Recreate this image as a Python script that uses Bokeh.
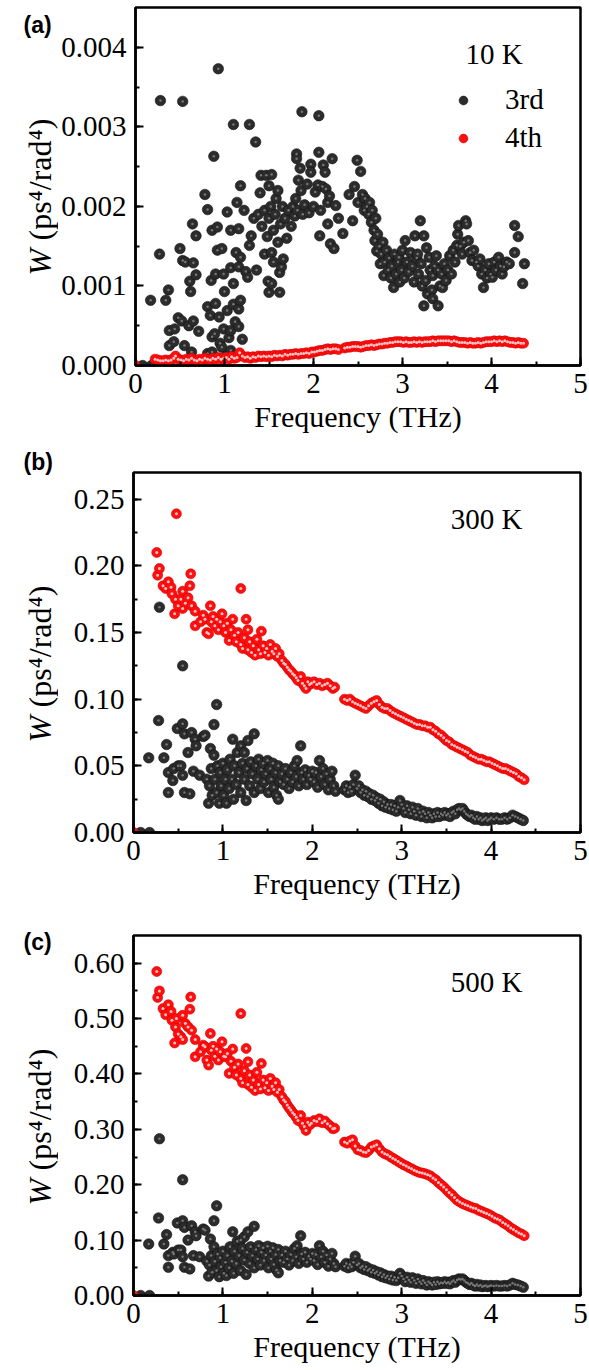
import numpy as np
from math import pi
from bokeh.plotting import figure
from bokeh.layouts import column, row
from bokeh.core.properties import value
from bokeh.models import (Range1d, PrintfTickFormatter, SingleIntervalTicker,
                          Label, Legend, LegendItem, ColumnDataSource)
from bokeh.embed import file_html
from bokeh.resources import INLINE

# ---------------- data ----------------
# Panel (a) 10 K : values in units of 1e-3 ps^4/rad^4
f3a = [0.08, 0.18, 0.17, 0.28, 0.27, 0.34, 0.37, 0.38, 0.38, 0.43, 0.44, 0.48, 0.50, 0.52, 0.53, 0.53,
       0.55, 0.56, 0.60, 0.61, 0.62, 0.63, 0.64, 0.65, 0.65, 0.68, 0.68, 0.71, 0.78, 0.81, 0.81, 0.81,
       0.84, 0.85, 0.86, 0.86, 0.86, 0.88, 0.89, 0.90, 0.90, 0.92, 0.92, 0.93, 0.94, 0.95, 0.97, 0.97,
       0.99, 0.99, 1.00, 1.02, 1.03, 1.03, 1.05, 1.07, 1.07, 1.07, 1.07, 1.10, 1.10, 1.10, 1.12, 1.13,
       1.14, 1.16, 1.16, 1.16, 1.16, 1.18, 1.18, 1.18, 1.20, 1.22, 1.24, 1.26, 1.28, 1.28, 1.30, 1.33,
       1.35, 1.36, 1.38, 1.40, 1.41, 1.42, 1.45, 1.45, 1.47, 1.48, 1.49, 1.50, 1.50, 1.50, 1.52, 1.53,
       1.53, 1.53, 1.55, 1.55, 1.57, 1.58, 1.60, 1.60, 1.62, 1.62, 1.63, 1.64, 1.65, 1.66, 1.68, 1.70,
       1.72, 1.75, 1.77, 1.79, 1.80, 1.81, 1.81, 1.82, 1.83, 1.85, 1.86, 1.87, 1.88, 1.90, 1.93, 1.95,
       1.97, 1.97, 2.00, 2.02, 2.05, 2.06, 2.06, 2.07, 2.08, 2.10, 2.11, 2.13, 2.14, 2.16, 2.16, 2.18,
       2.19, 2.21, 2.23, 2.25, 2.28, 2.33, 2.40, 2.44, 2.46, 2.49, 2.50, 2.53, 2.55, 2.57, 2.58, 2.60,
       2.62, 2.63, 2.65, 2.66, 2.68, 2.69, 2.70, 2.71, 2.72, 2.74, 2.75, 2.76, 2.78, 2.79, 2.80, 2.82,
       2.84, 2.85, 2.87, 2.88, 2.90, 2.91, 2.93, 2.95, 2.96, 2.97, 2.99, 3.00, 3.02, 3.03, 3.05, 3.07,
       3.09, 3.11, 3.13, 3.14, 3.16, 3.17, 3.18, 3.20, 3.21, 3.22, 3.24, 3.24, 3.26, 3.27, 3.28, 3.30,
       3.31, 3.33, 3.34, 3.34, 3.36, 3.38, 3.40, 3.40, 3.42, 3.44, 3.45, 3.47, 3.49, 3.51, 3.53, 3.55,
       3.57, 3.59, 3.61, 3.62, 3.63, 3.65, 3.67, 3.69, 3.71, 3.72, 3.74, 3.76, 3.78, 3.80, 3.83, 3.85,
       3.87, 3.89, 3.91, 3.93, 3.95, 3.97, 3.99, 4.01, 4.03, 4.05, 4.08, 4.10, 4.12, 4.14, 4.17, 4.20,
       4.26, 4.26, 4.30, 4.35, 4.37]
w3a_milli = [0.00, 0.00, 0.82, 3.33, 1.40, 0.82, 0.95, 0.44, 0.25, 0.30, 0.46, 0.60, 1.47, 0.56, 3.32, 1.32,
             0.25, 1.30, 0.50, 1.06, 0.93, 0.17, 1.78, 1.29, 0.56, 1.63, 1.14, 0.43, 2.15, 1.96, 0.74, 0.15,
             0.63, 1.07, 1.70, 0.36, 0.17, 2.63, 0.40, 0.78, 1.15, 1.74, 1.45, 3.73, 0.61, 0.28, 1.47, 0.23,
             1.15, 0.46, 0.93, 0.12, 1.93, 0.69, 0.35, 1.70, 1.23, 0.44, 0.19, 3.03, 1.03, 0.77, 0.55, 1.42,
             2.05, 1.72, 1.24, 0.71, 0.49, 2.26, 1.36, 0.82, 0.33, 1.95, 1.18, 1.11, 3.03, 1.51, 1.63, 1.85,
             2.81, 1.20, 1.90, 2.17, 2.39, 1.75, 1.40, 1.95, 2.39, 1.62, 1.06, 2.26, 1.85, 0.92, 2.00, 2.40,
             1.42, 1.03, 1.70, 1.30, 1.90, 2.10, 2.20, 1.55, 1.17, 0.92, 1.78, 1.24, 2.00, 1.34, 1.85, 1.60,
             1.95, 1.75, 2.00, 1.88, 2.10, 2.66, 2.60, 1.95, 2.33, 2.48, 2.20, 3.19, 1.90, 2.02, 2.28, 1.92,
             2.53, 2.43, 2.00, 2.18, 2.27, 3.14, 2.68, 1.63, 1.95, 2.25, 2.52, 2.43, 2.22, 1.78, 2.05, 2.13,
             1.53, 2.60, 1.47, 2.01, 1.85, 1.66, 2.15, 1.82, 2.25, 2.58, 2.05, 2.44, 2.15, 1.95, 2.10, 2.00,
             1.90, 2.05, 1.80, 1.95, 1.70, 1.57, 1.85, 1.44, 1.65, 1.50, 1.28, 1.40, 1.55, 1.13, 1.30, 1.45,
             1.20, 1.35, 1.10, 1.25, 0.98, 1.40, 1.15, 1.30, 1.36, 1.05, 1.20, 1.45, 1.10, 1.57, 1.30, 1.18,
             1.42, 1.25, 1.05, 1.63, 1.35, 1.40, 1.15, 1.82, 1.28, 1.00, 1.63, 0.75, 1.07, 1.48, 0.90, 1.36,
             1.20, 0.95, 1.13, 0.84, 1.25, 1.38, 1.20, 0.75, 1.00, 1.15, 0.98, 1.28, 1.07, 1.20, 1.38, 1.15,
             1.45, 1.30, 1.51, 1.65, 1.76, 1.50, 1.40, 1.55, 1.82, 1.78, 1.57, 1.42, 1.32, 1.45, 1.30, 1.25,
             1.34, 1.15, 0.98, 1.20, 1.10, 1.28, 1.15, 1.11, 1.30, 1.20, 1.36, 1.25, 1.15, 1.24, 1.30, 1.28,
             1.76, 1.42, 1.62, 1.03, 1.28]
f4a = [0.00, 0.22, 0.25, 0.28, 0.31, 0.34, 0.37, 0.40, 0.43, 0.45, 0.48, 0.51, 0.54, 0.57, 0.60, 0.63,
       0.66, 0.69, 0.72, 0.75, 0.78, 0.81, 0.84, 0.87, 0.90, 0.93, 0.96, 0.99, 1.02, 1.05, 1.08, 1.11,
       1.14, 1.17, 1.20, 1.23, 1.26, 1.29, 1.32, 1.35, 1.38, 1.41, 1.44, 1.47, 1.50, 1.53, 1.56, 1.59,
       1.62, 1.65, 1.68, 1.71, 1.74, 1.77, 1.80, 1.83, 1.86, 1.89, 1.92, 1.95, 1.98, 2.01, 2.04, 2.07,
       2.10, 2.13, 2.16, 2.19, 2.22, 2.25, 2.28, 2.35, 2.38, 2.41, 2.44, 2.47, 2.50, 2.53, 2.56, 2.59,
       2.62, 2.65, 2.68, 2.71, 2.74, 2.77, 2.80, 2.83, 2.86, 2.89, 2.92, 2.95, 2.98, 3.01, 3.04, 3.07,
       3.10, 3.13, 3.16, 3.19, 3.22, 3.25, 3.28, 3.31, 3.34, 3.37, 3.40, 3.43, 3.46, 3.49, 3.52, 3.55,
       3.58, 3.61, 3.64, 3.67, 3.70, 3.73, 3.76, 3.79, 3.82, 3.85, 3.88, 3.91, 3.94, 3.97, 4.00, 4.03,
       4.06, 4.09, 4.12, 4.15, 4.18, 4.21, 4.24, 4.27, 4.30, 4.33, 4.36]
w4a_milli = [0.00, 0.08, 0.07, 0.06, 0.06, 0.07, 0.06, 0.07, 0.09, 0.12, 0.08, 0.07, 0.06, 0.08, 0.07, 0.09,
             0.07, 0.06, 0.08, 0.07, 0.09, 0.08, 0.07, 0.09, 0.08, 0.10, 0.08, 0.09, 0.10, 0.08, 0.11, 0.09,
             0.10, 0.16, 0.12, 0.10, 0.11, 0.09, 0.11, 0.10, 0.12, 0.11, 0.12, 0.11, 0.12, 0.11, 0.13, 0.12,
             0.13, 0.12, 0.14, 0.13, 0.14, 0.14, 0.15, 0.14, 0.15, 0.15, 0.16, 0.15, 0.17, 0.17, 0.18, 0.19,
             0.19, 0.20, 0.21, 0.20, 0.21, 0.21, 0.20, 0.22, 0.23, 0.23, 0.24, 0.24, 0.24, 0.23, 0.24, 0.25,
             0.25, 0.26, 0.25, 0.26, 0.27, 0.27, 0.28, 0.28, 0.29, 0.29, 0.30, 0.30, 0.30, 0.29, 0.30, 0.29,
             0.29, 0.30, 0.29, 0.30, 0.29, 0.30, 0.30, 0.30, 0.31, 0.30, 0.31, 0.31, 0.31, 0.31, 0.31, 0.30,
             0.31, 0.30, 0.29, 0.29, 0.29, 0.28, 0.29, 0.28, 0.28, 0.29, 0.28, 0.29, 0.30, 0.30, 0.30, 0.31,
             0.30, 0.31, 0.30, 0.31, 0.30, 0.29, 0.29, 0.28, 0.29, 0.28, 0.28]

# Panels (b) 300 K and (c) 500 K share the mode frequencies
f3bc = [0.08, 0.18, 0.17, 0.28, 0.29, 0.34, 0.37, 0.39, 0.39, 0.44, 0.45, 0.49, 0.50, 0.53, 0.55, 0.55,
        0.55, 0.57, 0.57, 0.61, 0.63, 0.65, 0.67, 0.69, 0.70, 0.74, 0.78, 0.80, 0.82, 0.84, 0.85, 0.86,
        0.87, 0.88, 0.90, 0.90, 0.91, 0.93, 0.93, 0.94, 0.96, 0.97, 0.98, 1.00, 1.01, 1.03, 1.04, 1.05,
        1.07, 1.08, 1.10, 1.11, 1.12, 1.13, 1.15, 1.16, 1.18, 1.20, 1.20, 1.22, 1.24, 1.24, 1.26, 1.27,
        1.28, 1.30, 1.31, 1.33, 1.35, 1.35, 1.37, 1.39, 1.40, 1.42, 1.43, 1.45, 1.46, 1.48, 1.50, 1.51,
        1.53, 1.54, 1.56, 1.57, 1.59, 1.60, 1.62, 1.62, 1.64, 1.66, 1.68, 1.70, 1.72, 1.74, 1.76, 1.78,
        1.80, 1.82, 1.83, 1.85, 1.87, 1.88, 1.90, 1.92, 1.94, 1.96, 1.98, 2.00, 2.02, 2.04, 2.06, 2.08,
        2.10, 2.12, 2.14, 2.16, 2.18, 2.20, 2.22, 2.24, 2.26, 2.36, 2.38, 2.40, 2.42, 2.44, 2.46, 2.48,
        2.50, 2.52, 2.54, 2.56, 2.58, 2.60, 2.62, 2.64, 2.66, 2.68, 2.70, 2.72, 2.74, 2.76, 2.78, 2.80,
        2.82, 2.84, 2.86, 2.88, 2.90, 2.92, 2.94, 2.96, 2.98, 3.00, 3.02, 3.04, 3.06, 3.08, 3.10, 3.12,
        3.14, 3.16, 3.18, 3.20, 3.22, 3.24, 3.26, 3.28, 3.30, 3.32, 3.34, 3.36, 3.38, 3.40, 3.42, 3.44,
        3.46, 3.48, 3.50, 3.52, 3.54, 3.56, 3.58, 3.60, 3.62, 3.64, 3.66, 3.68, 3.70, 3.72, 3.74, 3.76,
        3.78, 3.80, 3.82, 3.84, 3.86, 3.88, 3.90, 3.92, 3.94, 3.96, 3.98, 4.00, 4.03, 4.06, 4.09, 4.12,
        4.15, 4.18, 4.21, 4.24, 4.27, 4.30, 4.33, 4.36]
w3b = [0.000, 0.000, 0.056, 0.084, 0.169, 0.056, 0.066, 0.045, 0.030, 0.039, 0.048, 0.078, 0.050, 0.050, 0.0815, 0.043,
       0.125, 0.074, 0.030, 0.060, 0.029, 0.075, 0.046, 0.070, 0.065, 0.043, 0.072, 0.073, 0.040, 0.022, 0.035, 0.063,
       0.048, 0.028, 0.081, 0.058, 0.040, 0.096, 0.030, 0.050, 0.022, 0.045, 0.035, 0.052, 0.028, 0.040, 0.022, 0.047,
       0.033, 0.055, 0.040, 0.070, 0.025, 0.050, 0.036, 0.060, 0.045, 0.065, 0.030, 0.052, 0.060, 0.040, 0.024, 0.048,
       0.069, 0.035, 0.053, 0.044, 0.074, 0.030, 0.050, 0.040, 0.055, 0.033, 0.047, 0.052, 0.038, 0.044, 0.054, 0.030,
       0.048, 0.040, 0.052, 0.034, 0.045, 0.028, 0.025, 0.050, 0.038, 0.044, 0.036, 0.048, 0.040, 0.033, 0.045, 0.038,
       0.050, 0.042, 0.054, 0.035, 0.065, 0.045, 0.040, 0.047, 0.036, 0.043, 0.040, 0.046, 0.038, 0.045, 0.034, 0.054,
       0.042, 0.048, 0.036, 0.044, 0.032, 0.040, 0.046, 0.035, 0.031, 0.032, 0.035, 0.030, 0.034, 0.031, 0.036, 0.043,
       0.033, 0.035, 0.030, 0.032, 0.028, 0.031, 0.027, 0.029, 0.025, 0.028, 0.024, 0.026, 0.022, 0.025, 0.020, 0.023,
       0.019, 0.021, 0.018, 0.021, 0.017, 0.020, 0.016, 0.019, 0.024, 0.021, 0.018, 0.015, 0.020, 0.017, 0.014, 0.019,
       0.016, 0.013, 0.018, 0.015, 0.012, 0.016, 0.014, 0.011, 0.015, 0.013, 0.011, 0.014, 0.012, 0.015, 0.012, 0.014,
       0.013, 0.015, 0.013, 0.014, 0.012, 0.015, 0.016, 0.014, 0.017, 0.018, 0.017, 0.018, 0.016, 0.014, 0.013, 0.012,
       0.013, 0.011, 0.010, 0.012, 0.010, 0.011, 0.009, 0.010, 0.011, 0.009, 0.010, 0.011, 0.010, 0.011, 0.010, 0.010,
       0.011, 0.010, 0.011, 0.013, 0.012, 0.011, 0.010, 0.009]
w3c = [0.000, 0.000, 0.093, 0.140, 0.283, 0.093, 0.110, 0.072, 0.051, 0.078, 0.075, 0.131, 0.082, 0.082, 0.135, 0.070,
       0.209, 0.123, 0.051, 0.100, 0.048, 0.126, 0.072, 0.115, 0.108, 0.070, 0.120, 0.118, 0.062, 0.035, 0.055, 0.102,
       0.072, 0.042, 0.135, 0.088, 0.062, 0.162, 0.045, 0.075, 0.034, 0.068, 0.052, 0.080, 0.040, 0.060, 0.036, 0.072,
       0.050, 0.088, 0.062, 0.115, 0.040, 0.080, 0.058, 0.098, 0.072, 0.100, 0.045, 0.085, 0.106, 0.064, 0.038, 0.078,
       0.115, 0.058, 0.088, 0.072, 0.125, 0.050, 0.083, 0.066, 0.090, 0.055, 0.078, 0.086, 0.063, 0.073, 0.089, 0.050,
       0.080, 0.066, 0.086, 0.056, 0.074, 0.046, 0.041, 0.083, 0.063, 0.073, 0.060, 0.080, 0.066, 0.055, 0.074, 0.063,
       0.085, 0.070, 0.090, 0.058, 0.108, 0.075, 0.066, 0.078, 0.060, 0.071, 0.066, 0.076, 0.063, 0.074, 0.056, 0.090,
       0.070, 0.080, 0.060, 0.073, 0.053, 0.066, 0.076, 0.058, 0.052, 0.053, 0.058, 0.050, 0.056, 0.052, 0.060, 0.071,
       0.055, 0.058, 0.050, 0.053, 0.047, 0.052, 0.045, 0.048, 0.042, 0.046, 0.040, 0.043, 0.037, 0.041, 0.034, 0.038,
       0.032, 0.035, 0.030, 0.035, 0.028, 0.033, 0.027, 0.032, 0.040, 0.035, 0.030, 0.025, 0.033, 0.028, 0.024, 0.032,
       0.027, 0.022, 0.030, 0.025, 0.021, 0.027, 0.023, 0.019, 0.025, 0.022, 0.019, 0.024, 0.020, 0.025, 0.021, 0.023,
       0.022, 0.025, 0.022, 0.024, 0.021, 0.025, 0.027, 0.024, 0.028, 0.030, 0.029, 0.030, 0.027, 0.024, 0.022, 0.020,
       0.022, 0.019, 0.017, 0.020, 0.017, 0.019, 0.016, 0.017, 0.018, 0.016, 0.017, 0.018, 0.017, 0.018, 0.017, 0.017,
       0.018, 0.017, 0.019, 0.022, 0.020, 0.019, 0.017, 0.015]
f4bc = [0.00, 0.26, 0.27, 0.29, 0.33, 0.36, 0.39, 0.42, 0.43, 0.46, 0.47, 0.48, 0.50, 0.53, 0.55, 0.55,
        0.58, 0.61, 0.63, 0.64, 0.65, 0.69, 0.69, 0.75, 0.78, 0.80, 0.82, 0.84, 0.86, 0.87, 0.89, 0.91,
        0.93, 0.95, 0.97, 0.99, 1.01, 1.03, 1.05, 1.07, 1.09, 1.11, 1.13, 1.15, 1.17, 1.20, 1.20, 1.22,
        1.24, 1.26, 1.28, 1.28, 1.30, 1.32, 1.34, 1.36, 1.38, 1.40, 1.42, 1.43, 1.45, 1.47, 1.49, 1.51,
        1.53, 1.55, 1.57, 1.59, 1.61, 1.63, 1.66, 1.68, 1.70, 1.72, 1.74, 1.76, 1.78, 1.80, 1.82, 1.84,
        1.87, 1.89, 1.91, 1.93, 1.95, 1.97, 1.99, 2.02, 2.05, 2.08, 2.11, 2.14, 2.17, 2.20, 2.23, 2.25,
        2.36, 2.39, 2.42, 2.45, 2.48, 2.51, 2.54, 2.57, 2.60, 2.63, 2.66, 2.69, 2.72, 2.75, 2.78, 2.81,
        2.84, 2.87, 2.90, 2.93, 2.96, 2.99, 3.02, 3.05, 3.08, 3.11, 3.14, 3.17, 3.20, 3.23, 3.26, 3.29,
        3.32, 3.35, 3.38, 3.41, 3.44, 3.47, 3.50, 3.53, 3.56, 3.59, 3.62, 3.65, 3.68, 3.71, 3.74, 3.77,
        3.80, 3.83, 3.86, 3.89, 3.92, 3.95, 3.98, 4.01, 4.04, 4.07, 4.10, 4.13, 4.16, 4.19, 4.22, 4.25,
        4.28, 4.31, 4.34, 4.37]
w4b = [0.000, 0.210, 0.193, 0.198, 0.185, 0.183, 0.188, 0.184, 0.179, 0.164, 0.175, 0.239, 0.170, 0.175, 0.181, 0.168,
       0.172, 0.176, 0.185, 0.194, 0.170, 0.166, 0.155, 0.158, 0.163, 0.160, 0.150, 0.149, 0.170, 0.158, 0.162, 0.155,
       0.160, 0.152, 0.158, 0.164, 0.155, 0.150, 0.157, 0.144, 0.152, 0.160, 0.148, 0.143, 0.150, 0.183, 0.141, 0.138,
       0.146, 0.160, 0.152, 0.137, 0.143, 0.135, 0.140, 0.133, 0.145, 0.137, 0.134, 0.151, 0.140, 0.135, 0.138, 0.133,
       0.141, 0.136, 0.134, 0.138, 0.132, 0.134, 0.129, 0.127, 0.126, 0.124, 0.122, 0.121, 0.119, 0.118, 0.116, 0.114,
       0.117, 0.112, 0.110, 0.108, 0.113, 0.111, 0.112, 0.113, 0.111, 0.112, 0.110, 0.111, 0.112, 0.110, 0.108, 0.109,
       0.100, 0.099, 0.100, 0.098, 0.097, 0.096, 0.095, 0.094, 0.093, 0.095, 0.097, 0.098, 0.099, 0.096, 0.094, 0.093,
       0.093, 0.0915, 0.090, 0.089, 0.088, 0.087, 0.086, 0.085, 0.084, 0.083, 0.082, 0.081, 0.081, 0.080, 0.080, 0.079,
       0.079, 0.077, 0.076, 0.074, 0.073, 0.071, 0.069, 0.068, 0.066, 0.065, 0.064, 0.063, 0.062, 0.061, 0.060, 0.058,
       0.057, 0.056, 0.055, 0.055, 0.054, 0.053, 0.053, 0.052, 0.051, 0.050, 0.049, 0.048, 0.048, 0.047, 0.046, 0.045,
       0.044, 0.042, 0.041, 0.0395]
w4c = [0.000, 0.585, 0.538, 0.550, 0.518, 0.507, 0.525, 0.513, 0.497, 0.456, 0.485, 0.500, 0.472, 0.467, 0.506, 0.462,
       0.491, 0.485, 0.517, 0.539, 0.479, 0.462, 0.431, 0.440, 0.452, 0.449, 0.425, 0.416, 0.473, 0.443, 0.450, 0.432,
       0.445, 0.425, 0.440, 0.458, 0.432, 0.431, 0.437, 0.401, 0.423, 0.445, 0.412, 0.398, 0.418, 0.509, 0.392, 0.384,
       0.406, 0.446, 0.422, 0.381, 0.398, 0.376, 0.389, 0.370, 0.403, 0.381, 0.373, 0.419, 0.389, 0.375, 0.384, 0.370,
       0.392, 0.378, 0.372, 0.384, 0.367, 0.372, 0.359, 0.353, 0.350, 0.344, 0.339, 0.335, 0.330, 0.327, 0.322, 0.316,
       0.325, 0.311, 0.305, 0.298, 0.313, 0.308, 0.311, 0.316, 0.314, 0.319, 0.312, 0.315, 0.310, 0.306, 0.301, 0.302,
       0.277, 0.275, 0.279, 0.281, 0.270, 0.263, 0.262, 0.259, 0.258, 0.262, 0.268, 0.270, 0.272, 0.265, 0.259, 0.256,
       0.254, 0.251, 0.248, 0.245, 0.242, 0.239, 0.236, 0.234, 0.231, 0.229, 0.226, 0.224, 0.222, 0.221, 0.220, 0.218,
       0.216, 0.212, 0.209, 0.204, 0.200, 0.196, 0.191, 0.186, 0.182, 0.177, 0.172, 0.169, 0.166, 0.164, 0.162, 0.160,
       0.158, 0.157, 0.154, 0.152, 0.150, 0.148, 0.146, 0.143, 0.140, 0.138, 0.136, 0.132, 0.129, 0.126, 0.122, 0.119,
       0.116, 0.113, 0.111, 0.108]

x_ticks_step = 1
series_names = ["3rd", "4th"]
temps = ["10 K", "300 K", "500 K"]
letters = ["(a)", "(b)", "(c)"]
y_title_italic = "W"
y_title_rest = "(ps\u2074/rad\u2074)"

# ---------------- style ----------------
SERIF = "Liberation Serif"
SANS = "Liberation Sans"
W = 589
LW = 58           # width of the side strip holding the y title / panel letter
BL = 133 - LW     # main figure left border
BR = 9
BLACK_FILL, BLACK_LINE, BLACK_HL = "#2c2c2c", "#111111", "#777777"
RED_FILL, RED_LINE, RED_HL = "#ff0f0f", "#d60000", "#ffc4c4"


def side(height, bbot, letter, letter_top):
    s = figure(width=LW, height=height, x_range=Range1d(0, LW), y_range=Range1d(0, height),
               output_backend="svg", toolbar_location=None, min_border=0,
               min_border_left=0, min_border_right=0, min_border_top=0, min_border_bottom=0,
               frame_align=False)
    s.axis.visible = False
    s.grid.visible = False
    s.outline_line_color = None
    s.text(x=[23], y=[height - letter_top], text=[letter], text_font=value(SANS),
           text_font_style="bold", text_font_size="23px", text_align="left",
           text_baseline="middle", text_color="black")
    # y title: italic W, then the unit, reading bottom -> top
    s.text(x=[39], y=[bbot + 90], text=[y_title_italic], angle=pi / 2, text_font=value(SERIF),
           text_font_style="italic", text_font_size="32px", text_align="left",
           text_baseline="alphabetic", text_color="black")
    s.text(x=[39], y=[bbot + 125], text=[y_title_rest], angle=pi / 2, text_font=value(SERIF),
           text_font_size="32px", text_align="left", text_baseline="alphabetic", text_color="black")
    return s


def panel(height, btop, bbot, frame_h, ymax, ystep, fmt, temp, f3, w3, f4, w4, legend=False):
    p = figure(width=W - LW, height=height, x_range=Range1d(0, 5), y_range=Range1d(0, ymax),
               output_backend="svg", toolbar_location=None,
               min_border_left=BL, min_border_right=BR,
               min_border_top=btop, min_border_bottom=bbot, frame_align=False)
    p.grid.visible = False
    p.outline_line_color = "black"
    p.outline_line_width = 2.5

    for ax in (p.xaxis[0], p.yaxis[0]):
        ax.axis_line_width = 2.5
        ax.major_tick_in = 8
        ax.major_tick_out = 0
        ax.minor_tick_in = 4
        ax.minor_tick_out = 0
        ax.major_tick_line_width = 2
        ax.minor_tick_line_width = 2
        ax.major_label_text_font = SERIF
        ax.major_label_text_font_size = "29px"
        ax.major_label_text_color = "black"
        ax.major_label_standoff = 8

    p.xaxis.ticker = SingleIntervalTicker(interval=x_ticks_step, num_minor_ticks=2)
    p.xaxis.axis_label = "Frequency (THz)"
    p.xaxis.axis_label_text_font = SERIF
    p.xaxis.axis_label_text_font_size = "30px"
    p.xaxis.axis_label_text_font_style = "normal"
    p.xaxis.axis_label_text_color = "black"
    p.xaxis.axis_label_standoff = 4

    p.yaxis.ticker = SingleIntervalTicker(interval=ystep, num_minor_ticks=2)
    p.yaxis.formatter = PrintfTickFormatter(format=fmt)
    p.yaxis.major_label_standoff = 9

    s3 = ColumnDataSource(dict(x=f3, y=w3))
    s4 = ColumnDataSource(dict(x=f4, y=w4))
    r3 = p.scatter("x", "y", source=s3, size=10.5, fill_color=BLACK_FILL,
                   line_color=BLACK_LINE, line_width=0.6)
    p.scatter("x", "y", source=s3, size=2.5, fill_color=BLACK_HL, line_color=None)
    r4 = p.scatter("x", "y", source=s4, size=10, fill_color=RED_FILL,
                   line_color=RED_LINE, line_width=0.6)
    p.scatter("x", "y", source=s4, size=3, fill_color=RED_HL, line_color=None)

    px = 447 / 5.0
    py = frame_h / ymax
    p.add_layout(Label(x=(522 - 133) / px, y=ymax - 46 / py, text=temp,
                       text_font=SERIF, text_font_size="29px",
                       text_align="right", text_baseline="middle", text_color="black"))

    if legend:
        lg = Legend(items=[LegendItem(label=series_names[0], renderers=[r3]),
                           LegendItem(label=series_names[1], renderers=[r4])],
                    location=(317, frame_h - 131 - 16), orientation="vertical",
                    padding=0, margin=0, spacing=5,
                    glyph_width=22, glyph_height=32, label_height=32,
                    label_standoff=31, label_text_font=SERIF, label_text_font_size="29px",
                    label_text_color="black",
                    border_line_alpha=0, background_fill_alpha=0)
        p.add_layout(lg)
    return p


pa = panel(440, 7, 75, 358, 0.0045, 0.001, "%.3f", temps[0],
           f3a, (np.array(w3a_milli) * 1e-3).tolist(), f4a, (np.array(w4a_milli) * 1e-3).tolist(),
           legend=True)
pb = panel(465, 32, 73, 360, 0.27, 0.05, "%.2f", temps[1], f3bc, w3b, f4bc, w4b)
pc = panel(465, 30, 75, 360, 0.65, 0.1, "%.2f", temps[2], f3bc, w3c, f4bc, w4c)

sa = side(440, 75, letters[0], 24)
sb = side(465, 73, letters[1], 21)
sc = side(465, 75, letters[2], 36)

layout = column(row(sa, pa, spacing=0), row(sb, pb, spacing=0), row(sc, pc, spacing=0), spacing=0)
open("out.html", "w").write(file_html(layout, INLINE))
